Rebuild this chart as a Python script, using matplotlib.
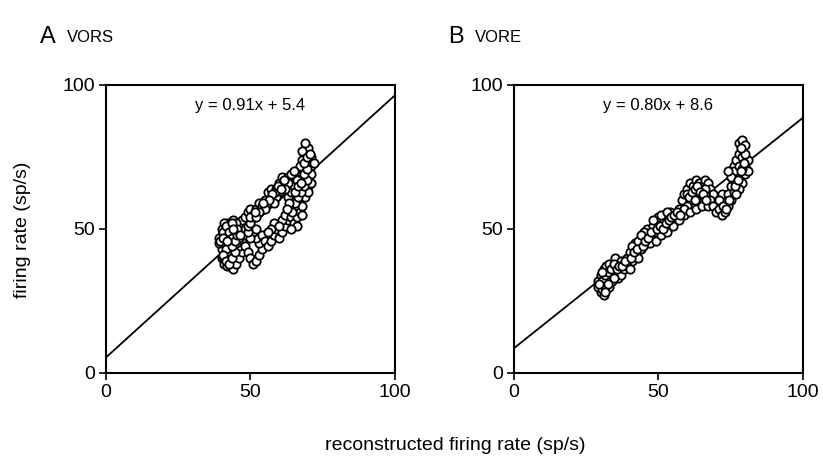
import matplotlib
matplotlib.use("Agg")
import matplotlib.pyplot as plt
import numpy as np

plt.rcParams["font.family"] = ["Liberation Sans", "DejaVu Sans"]

vors_points = [
    (40, 44), (41, 46), (40, 48), (41, 50), (42, 52), (43, 51), (44, 53), (42, 48), (43, 46), (42, 44),
    (41, 42), (40, 40), (41, 38), (42, 37), (43, 39), (44, 41), (45, 43), (44, 45), (45, 47), (46, 49),
    (46, 51), (47, 53), (45, 52), (43, 49), (42, 47), (41, 45), (40, 43), (39, 45), (39, 47), (40, 50),
    (41, 52), (42, 50), (44, 48), (44, 44), (43, 42), (42, 40), (43, 37), (44, 36), (45, 38), (46, 40),
    (47, 42), (46, 44), (47, 46), (48, 48), (48, 50), (43, 44), (42, 42), (41, 40), (45, 45), (46, 47),
    (48, 44), (49, 42), (50, 40), (51, 38), (52, 39), (53, 41), (54, 43), (53, 45), (52, 47), (51, 49),
    (50, 47), (49, 49), (49, 51), (50, 52), (52, 50), (54, 48), (55, 46), (56, 44), (57, 46), (58, 48),
    (59, 50), (58, 52), (57, 50), (56, 49), (60, 47), (61, 49), (62, 51), (63, 53), (61, 53), (60, 51),
    (62, 55), (63, 57), (64, 54), (65, 52), (66, 54), (65, 57), (64, 59), (63, 61), (64, 63), (65, 65),
    (66, 62), (67, 60), (66, 58), (67, 56), (68, 58), (68, 61), (69, 63), (68, 66), (67, 68), (66, 67),
    (67, 70), (68, 71), (69, 69), (70, 67), (70, 70), (69, 72), (70, 74), (69, 76), (70, 78), (69, 80),
    (68, 77), (68, 74), (67, 72), (71, 72), (71, 69), (70, 65), (69, 61), (68, 55), (66, 51), (64, 50),
    (48, 54), (49, 56), (50, 57), (51, 55), (52, 57), (53, 59), (54, 58), (55, 60), (56, 59), (57, 61),
    (56, 63), (57, 64), (58, 62), (59, 64), (60, 63), (60, 66), (61, 65), (62, 67), (61, 68), (63, 68),
    (64, 69), (65, 70), (63, 66), (62, 64), (59, 61), (58, 59), (55, 57), (53, 56), (50, 54), (52, 54),
    (71, 75), (72, 73), (71, 66), (70, 63),
    (40.5, 45), (41.5, 47), (40.5, 49), (41.5, 51), (42.5, 49), (43.5, 47), (42.5, 45), (41.5, 43),
    (40.5, 41), (41.5, 39), (42.5, 38), (43.5, 40), (44.5, 42), (43.5, 44), (44.5, 46), (45.5, 48),
    (44.5, 50), (43.5, 52), (45.5, 50), (46.5, 48), (39.5, 46), (40.5, 47), (42, 46), (44, 50),
    (64.5, 56), (65.5, 59), (66.5, 61), (67.5, 63), (68.5, 65), (69.5, 67), (68.5, 69), (69.5, 71),
    (68.5, 73), (69.5, 75), (70.5, 76), (65.5, 63), (66.5, 65), (67.5, 66), (63.5, 59), (62.5, 57),
    (58.5, 63), (59.5, 65), (61.5, 67), (60.5, 64), (57.5, 62), (56.5, 60), (54.5, 59), (51.5, 56),
]

vore_points = [
    (30, 28), (31, 27), (30, 30), (29, 32), (30, 34), (31, 36), (32, 37), (33, 35), (32, 33), (31, 31),
    (32, 29), (33, 30), (34, 32), (35, 34), (34, 36), (33, 38), (35, 37), (36, 35), (37, 36), (36, 38),
    (35, 40), (37, 39), (38, 38), (29, 30), (31, 33), (33, 33), (34, 34), (36, 33), (37, 34), (38, 36),
    (39, 40), (40, 42), (41, 39), (42, 41), (43, 43), (42, 45), (41, 44), (44, 45), (45, 47), (44, 43),
    (46, 45), (47, 48), (46, 50), (45, 49), (48, 47), (49, 49), (48, 51), (50, 50), (51, 52), (50, 54),
    (52, 53), (53, 51), (52, 49), (54, 52), (55, 54), (54, 56), (56, 55), (57, 57), (56, 53), (58, 56),
    (39, 37), (40, 36), (43, 40), (47, 45), (49, 46), (51, 48), (53, 49), (55, 51), (57, 53), (59, 55),
    (43, 46), (44, 48), (48, 53), (51, 55), (53, 56),
    (58, 60), (59, 62), (60, 64), (61, 66), (62, 65), (63, 67), (64, 66), (65, 65), (66, 67), (67, 66),
    (68, 64), (69, 62), (67, 60), (66, 62), (65, 60), (64, 62), (63, 60), (62, 58), (61, 60), (60, 58),
    (59, 57), (61, 56), (63, 57), (65, 58), (67, 58), (68, 60), (60, 62), (62, 62), (64, 64), (66, 64),
    (69, 58), (70, 56), (71, 57), (72, 55), (73, 56), (74, 58), (73, 60), (72, 62), (71, 60), (74, 62),
    (75, 65), (76, 67), (75, 60), (76, 63), (77, 65), (78, 68), (77, 70), (76, 72), (77, 74), (78, 76),
    (79, 78), (78, 80), (79, 81), (80, 79), (79, 75), (80, 72), (80, 69), (79, 66), (78, 64), (77, 62),
    (76, 70), (75, 68), (74, 70), (78, 72), (81, 74), (80, 76), (81, 70), (79, 71),
    (30.5, 29), (31.5, 30), (30.5, 32), (31.5, 34), (32.5, 35), (33.5, 36), (34.5, 38), (35.5, 36),
    (36.5, 37), (34.5, 33), (32.5, 31), (31.5, 28), (29.5, 31), (30.5, 35), (37.5, 37), (38.5, 39),
    (40.5, 40), (41.5, 42), (42.5, 43), (44.5, 44), (45.5, 46), (46.5, 47), (47.5, 49), (49.5, 50),
    (50.5, 51), (51.5, 50), (52.5, 52), (53.5, 53), (54.5, 54), (55.5, 55), (56.5, 56), (57.5, 55),
    (60.5, 61), (61.5, 63), (62.5, 64), (63.5, 65), (64.5, 63), (65.5, 62), (66.5, 60), (62.5, 60),
    (72.5, 58), (73.5, 57), (74.5, 60), (76.5, 65), (77.5, 67), (78.5, 70), (79.5, 73), (78.5, 78),
]

panels = [
    ("A", "VORS", vors_points, 0.91, 5.4),
    ("B", "VORE", vore_points, 0.80, 8.6),
]

fig = plt.figure(figsize=(8.23, 4.70), dpi=100)
lefts = [0.1288, 0.6245]

for left, (letter, name, points, slope, icept) in zip(lefts, panels):
    ax = fig.add_axes([left, 0.2064, 0.351, 0.6128])
    pts = np.array(points, dtype=float)
    ax.scatter(pts[:, 0], pts[:, 1], s=36, facecolor="white", edgecolor="black",
               linewidth=1.3, zorder=3)
    fit_x = np.array([0, 100])
    ax.plot(fit_x, slope * fit_x + icept, color="black", linewidth=1.3, zorder=2)
    ax.set_xlim(0, 100)
    ax.set_ylim(0, 100)
    ax.set_xticks([0, 50, 100])
    ax.set_yticks([0, 50, 100])
    ax.tick_params(direction="out", length=5, width=1.2, labelsize=14, pad=3)
    for sp in ax.spines.values():
        sp.set_linewidth(1.5)
    ax.text(0.5, 0.93, f"y = {slope:.2f}x + {icept:.1f}", transform=ax.transAxes,
            ha="center", va="center", fontsize=12)
    fx = left - 0.08
    fig.text(fx, 0.922, letter, fontsize=17, ha="left", va="center")
    fig.text(fx + 0.033, 0.92, name, fontsize=12, ha="left", va="center")

fig.text(0.027, 0.51, "firing rate (sp/s)", rotation=90, fontsize=14, ha="center", va="center")
fig.text(0.553, 0.053, "reconstructed firing rate (sp/s)", fontsize=14, ha="center", va="center")

fig.savefig("out.png", dpi=100)
